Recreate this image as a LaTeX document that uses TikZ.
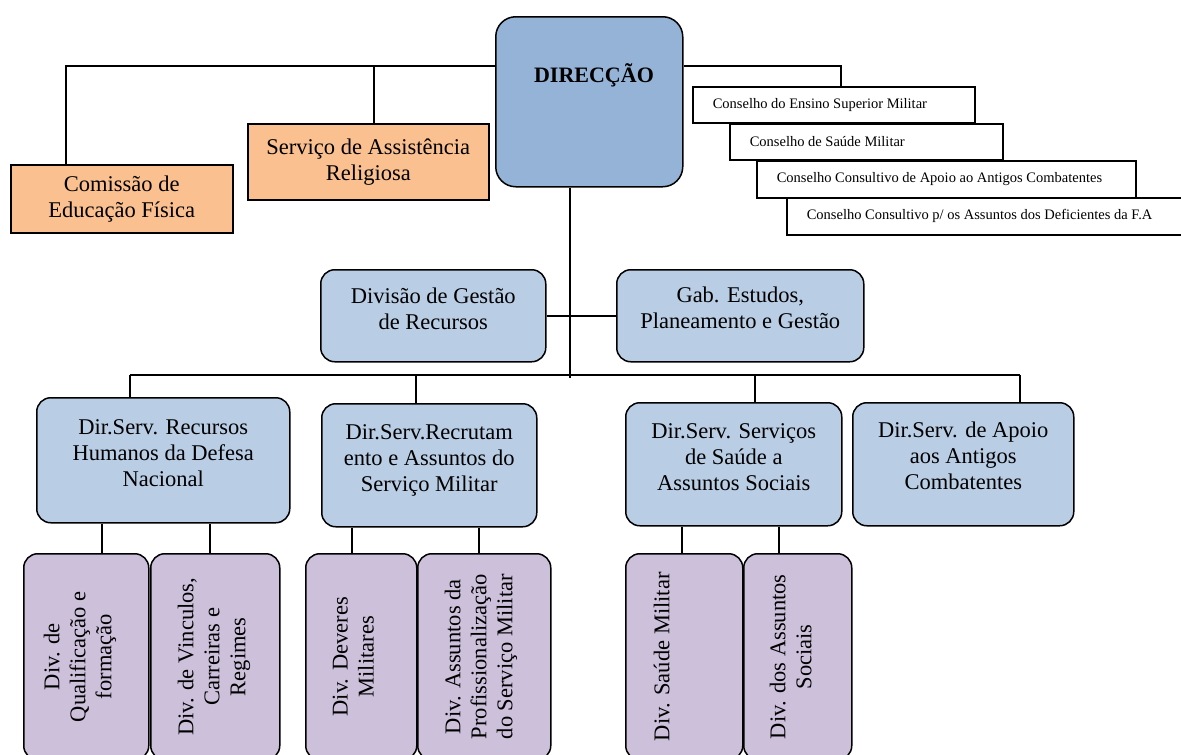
\documentclass[tikz,border=0pt]{standalone}
\usepackage{fontspec}
\setmainfont{Liberation Serif}
\definecolor{dirf}{HTML}{95B3D7}
\definecolor{bluef}{HTML}{B9CDE5}
\definecolor{orangef}{HTML}{FAC090}
\definecolor{purf}{HTML}{CCC0DA}
\newcommand{\uplines}[2]{\raisebox{#1}[\height][\depth]{\begin{tabular}{@{}c@{}}#2\end{tabular}}}
\begin{document}
\begin{tikzpicture}[x=1pt,y=-1pt,line width=1.5pt,
  base/.style={draw=black,inner sep=0pt,anchor=north west,align=center,font=\fontsize{22.5}{26}\selectfont},
  org/.style={base,fill=orangef},
  blu/.style={base,fill=bluef,rounded corners=14pt},
  pur/.style={base,fill=purf,rounded corners=14pt},
  ptext/.style={inner sep=0pt,anchor=north,rotate=90,align=center,font=\fontsize{22.5}{26}\selectfont},
  cons/.style={draw=black,fill=white,inner xsep=20pt,inner ysep=0pt,anchor=north west,align=flush left,font=\fontsize{14.5}{16}\selectfont},
  wire/.style={draw=black,line width=1.5pt}]
\useasboundingbox (0,0) rectangle (1181,755);
\fill[white] (0,0) rectangle (1181,755);

% top level
\node[base,fill=dirf,rounded corners=20pt,minimum width=187pt,minimum height=170pt] (dir) at (495,16) {};
\node[font=\fontsize{22}{25}\selectfont\bfseries] (dirt) at (594,75) {DIRECÇÃO};

\node[org,minimum width=222pt,minimum height=68pt] (com) at (10,164) {Comissão de\\Educação Física};
\node[org,minimum width=241pt,minimum height=76pt] (ser) at (247,123) {Serviço de Assistência\\Religiosa};

\node[cons,text width=242pt,minimum height=36pt] (c1) at (692,86) {Conselho do Ensino Superior Militar};
\node[cons,text width=233pt,minimum height=36pt] (c2) at (729,123) {Conselho de Saúde Militar};
\node[cons,text width=339pt,minimum height=37pt] (c3) at (756,160) {Conselho Consultivo de Apoio ao Antigos Combatentes};
\node[cons,text width=362pt,minimum height=37pt] (c4) at (786,197) {Conselho Consultivo p/ os Assuntos dos Deficientes da F.A};

% staff
\node[blu,minimum width=225pt,minimum height=92pt] (div) at (320,269) {\uplines{4pt}{Divisão de Gestão\\de Recursos}};
\node[blu,minimum width=247pt,minimum height=92pt] (gab) at (616,269) {\uplines{5pt}{Gab. Estudos,\\Planeamento e Gestão}};

% directorates
\node[blu,minimum width=253pt,minimum height=125pt] (rh) at (36,397) {\uplines{5pt}{Dir.Serv. Recursos\\Humanos da Defesa\\Nacional}};
\node[blu,minimum width=215pt,minimum height=123pt] (rec) at (321,403) {\uplines{5pt}{Dir.Serv.Recrutam\\ento e Assuntos do\\Serviço Militar}};
\node[blu,minimum width=216pt,minimum height=123pt] (sv) at (625,402) {\uplines{5pt}{Dir.Serv. Serviços\\de Saúde a\\Assuntos Sociais}};
\node[blu,minimum width=221pt,minimum height=123pt] (ap) at (852,402) {\uplines{6pt}{Dir.Serv. de Apoio\\aos Antigos\\Combatentes}};

% divisions
\node[pur,minimum width=125pt,minimum height=206pt] (q) at (23,553) {};
\node[pur,minimum width=129pt,minimum height=206pt] (v) at (150,553) {};
\node[pur,minimum width=111pt,minimum height=206pt] (dev) at (305,553) {};
\node[pur,minimum width=133pt,minimum height=206pt] (prof) at (417,553) {};
\node[pur,minimum width=117pt,minimum height=206pt] (sm) at (625,553) {};
\node[pur,minimum width=108pt,minimum height=206pt] (soc) at (743,553) {};
\node[ptext] (qt) at ([xshift=20pt]q.west) {Div. de\\Qualificação e\\formação};
\node[ptext] (vt) at ([xshift=27pt]v.west) {Div. de Vinculos,\\Carreiras e\\Regimes};
\node[ptext] (devt) at ([xshift=27pt]dev.west) {Div. Deveres\\Militares};
\node[ptext] (proft) at ([xshift=27pt]prof.west) {Div. Assuntos da\\Profissionalização\\do Serviço Militar};
\node[ptext] (smt) at ([xshift=28pt]sm.west) {Div. Saúde Militar};
\node[ptext] (soct) at ([xshift=26pt]soc.west) {Div. dos Assuntos\\Sociais};

% connectors
\coordinate (tl) at (66,66);
\coordinate (sj) at (374,66);
\coordinate (tr) at (841,66);
\draw[wire] (tl |- com.north) -- (tl) -- (tl -| dir.west);
\draw[wire] (sj |- ser.north) -- (sj);
\draw[wire] (tr -| dir.east) -- (tr) -- (tr |- c1.north);
\coordinate (cv) at (570,378);
\draw[wire] (cv |- dir.south) -- (cv);
\draw[wire] (div.east) -- (gab.west);
\coordinate (b1) at (130,375);
\coordinate (b2) at (416,375);
\coordinate (b3) at (755,375);
\coordinate (b4) at (1020,375);
\draw[wire] (b1) -- (b4);
\draw[wire] (b1) -- (b1 |- rh.north);
\draw[wire] (b2) -- (b2 |- rec.north);
\draw[wire] (b3) -- (b3 |- sv.north);
\draw[wire] (b4) -- (b4 |- ap.north);
\coordinate (d1) at (102,540);
\coordinate (d2) at (210,540);
\coordinate (d3) at (352,540);
\coordinate (d4) at (479,540);
\coordinate (d5) at (682,540);
\coordinate (d6) at (779,540);
\draw[wire] (d1 |- rh.south) -- (d1 |- q.north);
\draw[wire] (d2 |- rh.south) -- (d2 |- v.north);
\draw[wire] (d3 |- rec.south) -- (d3 |- dev.north);
\draw[wire] (d4 |- rec.south) -- (d4 |- prof.north);
\draw[wire] (d5 |- sv.south) -- (d5 |- sm.north);
\draw[wire] (d6 |- sv.south) -- (d6 |- soc.north);
\end{tikzpicture}
\end{document}
